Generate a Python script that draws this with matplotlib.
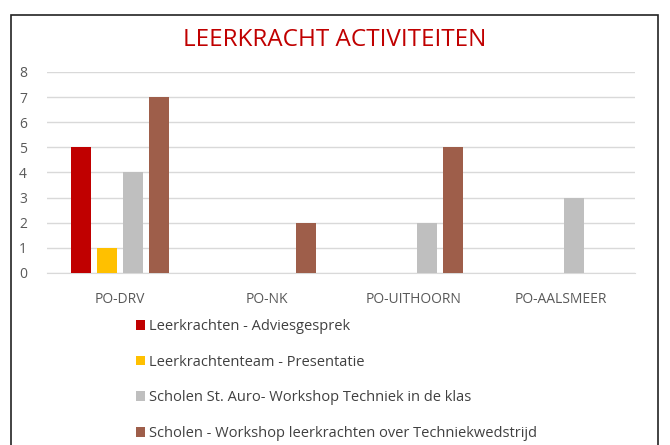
import matplotlib
matplotlib.use("Agg")
import matplotlib.pyplot as plt
from matplotlib.patches import Rectangle
import numpy as np

# data
categories = ["PO-DRV", "PO-NK", "PO-UITHOORN", "PO-AALSMEER"]
series_names = [
    "Leerkrachten - Adviesgesprek",
    "Leerkrachtenteam - Presentatie",
    "Scholen St. Auro- Workshop Techniek in de klas",
    "Scholen - Workshop leerkrachten over Techniekwedstrijd",
]
adviesgesprek = [5, 0, 0, 0]
presentatie = [1, 0, 0, 0]
techniek_klas = [4, 0, 2, 3]
techniekwedstrijd = [7, 2, 5, 0]
colors = ["#C00000", "#FFC000", "#BFBFBF", "#9E5E4A"]

plt.rcParams['font.family'] = ['Open Sans', 'DejaVu Sans']

fig = plt.figure(figsize=(6.7, 4.45), dpi=100)
ax = fig.add_axes([46.5 / 670, 1 - 273 / 445, 588 / 670, 201 / 445])

# outer border of the chart box
fig.patches.append(Rectangle((11 / 670, -0.01), 647 / 670, 1 - 15 / 445 + 0.01,
                             transform=fig.transFigure, fill=False,
                             edgecolor="#222222", linewidth=1.2))

x = np.arange(len(categories))
slot = 0.177
width = 0.138
all_series = [adviesgesprek, presentatie, techniek_klas, techniekwedstrijd]
handles = []
for i, vals in enumerate(all_series):
    h = ax.bar(x + (i - 1.5) * slot, vals, width, color=colors[i],
               label=series_names[i], zorder=3)
    handles.append(h)

ax.set_xlim(-0.5, len(categories) - 0.5)
ax.set_ylim(0, 8)
ax.set_yticks(range(0, 9))
ax.set_xticks(x)
ax.set_xticklabels(categories)
ax.grid(axis='y', color="#D9D9D9", linewidth=1, zorder=0)
for s in ax.spines.values():
    s.set_visible(False)
ax.spines['bottom'].set_visible(True)
ax.spines['bottom'].set_color("#D9D9D9")
ax.tick_params(axis='both', length=0, colors="#595959", labelsize=10)
ax.tick_params(axis='x', pad=14)
ax.tick_params(axis='y', pad=14)

fig.text(335 / 670, 1 - 40 / 445, "LEERKRACHT ACTIVITEITEN", ha='center', va='center',
         color="#C00000", fontsize=17.5)

leg = fig.legend(handles=handles, labels=series_names, loc='upper left',
                 bbox_to_anchor=(136 / 670, 1 - 319 / 445), ncol=1, frameon=False,
                 fontsize=10.5, handlelength=0.65, handleheight=0.65, handletextpad=0.25,
                 labelspacing=1.42, borderaxespad=0, borderpad=0)
for t in leg.get_texts():
    t.set_color("#404040")

fig.savefig("out.png", dpi=100)
